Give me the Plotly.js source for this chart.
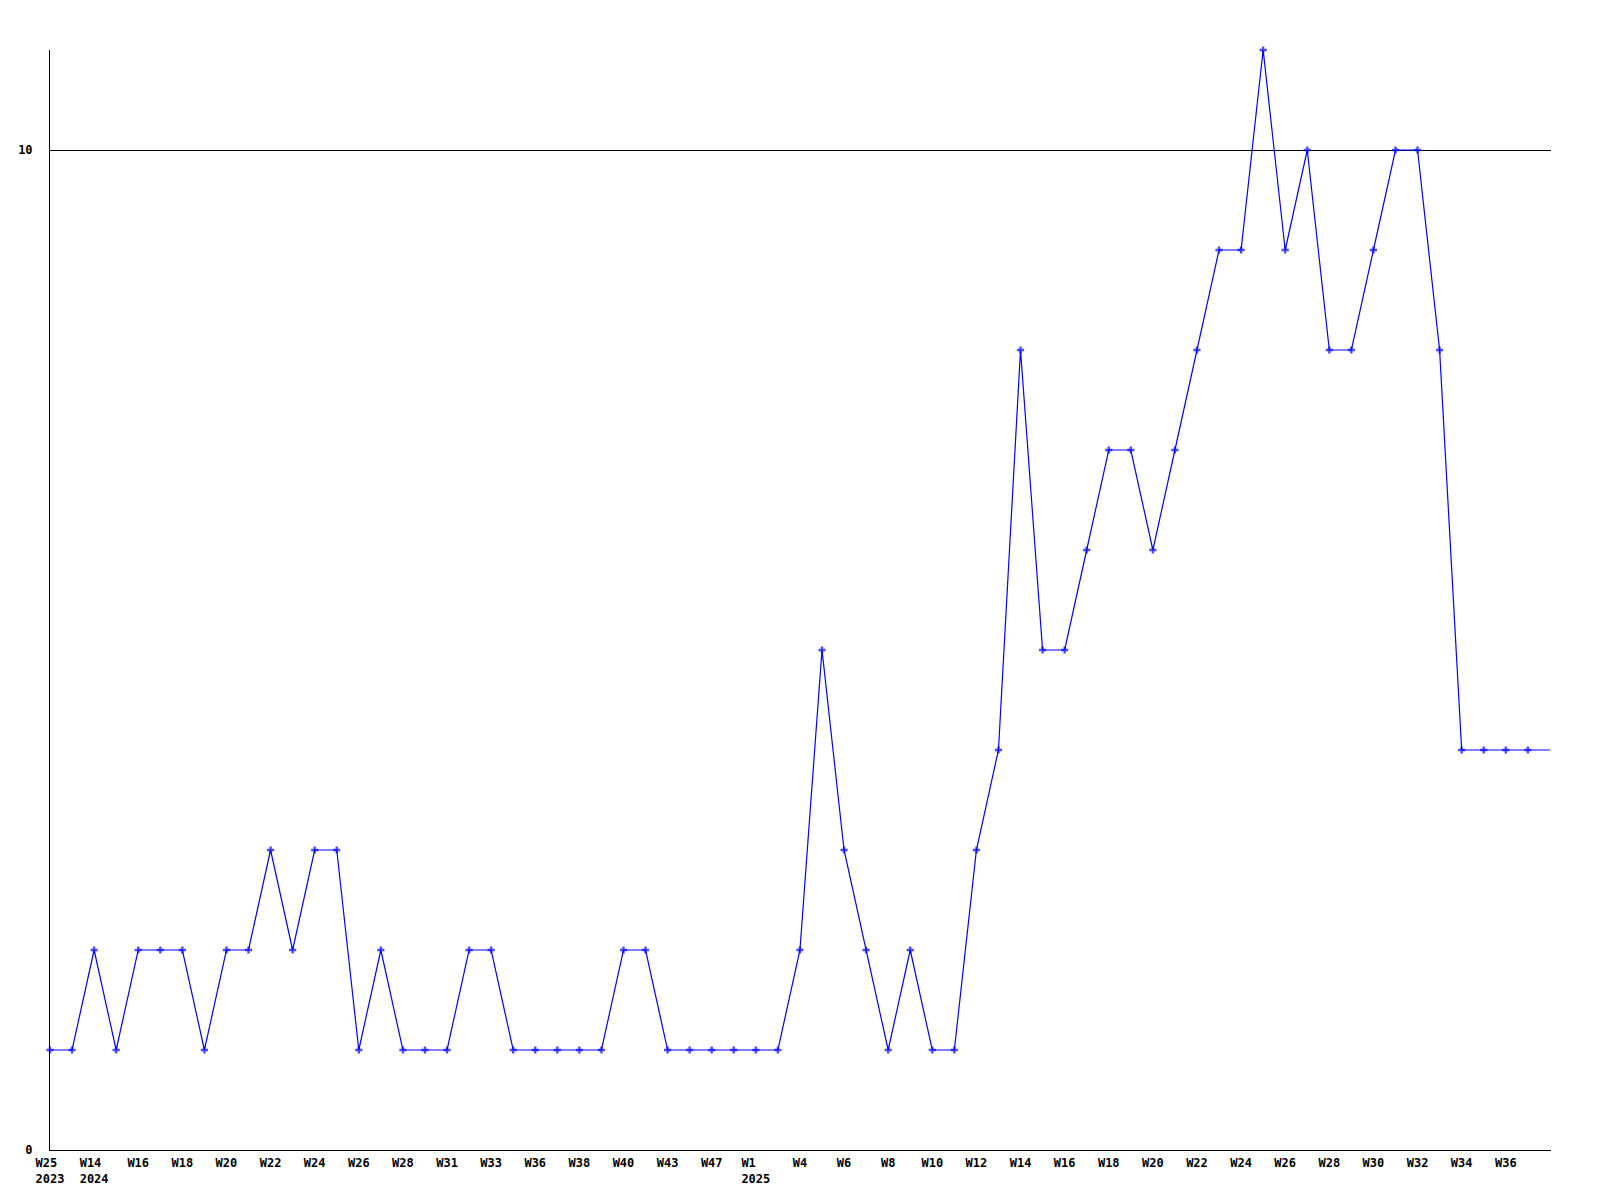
<!DOCTYPE html>
<html>
<head>
<meta charset="utf-8">
<script src="https://cdn.plot.ly/plotly-3.0.1.min.js"></script>
<style>html,body{margin:0;padding:0;background:#fff;}#chart{width:1600px;height:1200px;}</style>
</head>
<body>
<div id="chart"></div>
<script>
// Weekly values (index 0 = W25 2023)
const values = [1,1,2,1,2,2,2,1,2,2,3,2,3,3,1,2,1,1,1,2,2,1,1,1,1,1,2,2,1,1,1,1,1,1,2,5,3,2,1,2,1,1,3,4,8,5,5,6,7,7,6,7,8,9,9,11,9,10,8,8,9,10,10,8,4,4,4,4,4];
// Tick labels, one for every second week (week line left-aligned over the year)
const tickLabels = ["W25\u00a0<br>2023","W14\u00a0<br>2024","W16","W18","W20","W22","W24","W26","W28","W31","W33","W36","W38","W40","W43","W47","W1\u00a0\u00a0<br>2025","W4","W6","W8","W10","W12","W14","W16","W18","W20","W22","W24","W26","W28","W30","W32","W34","W36"];
const yTicks = [0, 10];

const xs = values.map((v, i) => i);
const tickVals = tickLabels.map((t, i) => i * 2);
const markerSizes = values.map((v, i) => i === values.length - 1 ? 0 : 6);

const font = {family: '"DejaVu Sans Mono", monospace', size: 12, color: '#000'};

Plotly.newPlot('chart', [{
  x: xs, y: values, type: 'scatter', mode: 'lines+markers',
  line: {color: '#0000ff', width: 1.2},
  marker: {color: '#0000ff', symbol: 'cross', size: markerSizes, line: {width: 0}},
  cliponaxis: false,
  hoverinfo: 'skip'
}], {
  width: 1600, height: 1200,
  margin: {l: 50, r: 49, t: 50, b: 50},
  paper_bgcolor: '#fff', plot_bgcolor: '#fff',
  showlegend: false,
  font: font,
  xaxis: {
    range: [0, 68.05], tickvals: tickVals, ticktext: tickLabels,
    showgrid: false, zeroline: false, showline: true, linecolor: '#000', linewidth: 1,
    ticks: '', ticklabelstandoff: 2,
    tickfont: {family: font.family, size: 12, color: '#000', weight: 'bold'},
    tickangle: 0, fixedrange: true
  },
  yaxis: {
    range: [0, 11], tickvals: yTicks, ticktext: yTicks.map(String),
    showgrid: true, gridcolor: '#000', gridwidth: 1,
    zeroline: false, showline: true, linecolor: '#000', linewidth: 1,
    ticks: '', ticklabelstandoff: 14,
    tickfont: {family: font.family, size: 12, color: '#000', weight: 'bold'},
    fixedrange: true
  }
}, {displayModeBar: false, staticPlot: true});
</script>
</body>
</html>
